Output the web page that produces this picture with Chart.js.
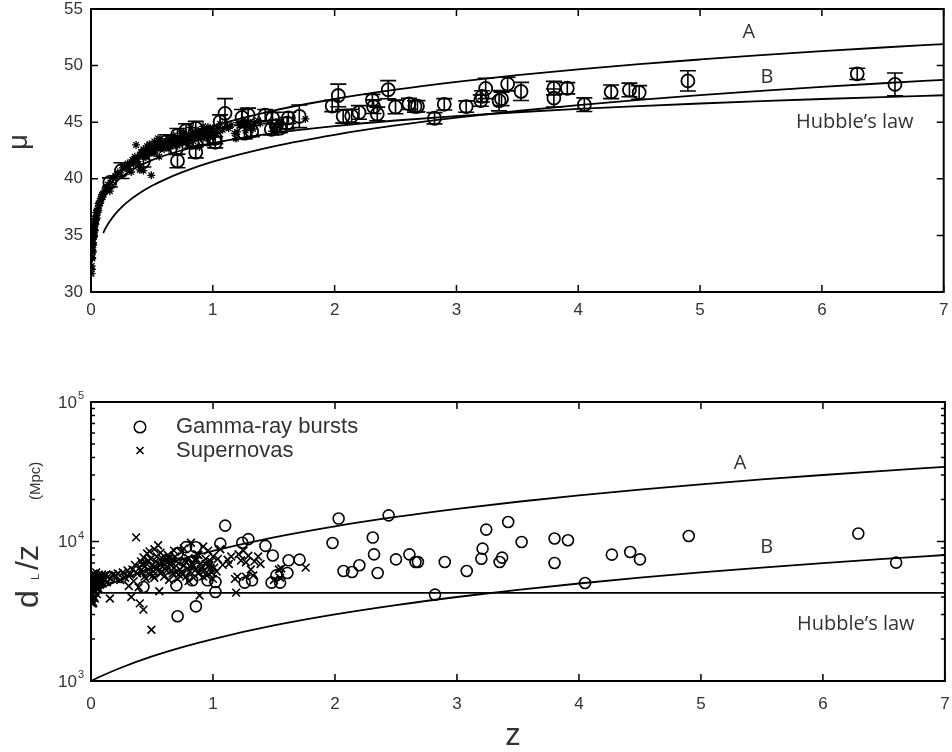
<!DOCTYPE html>
<html>
<head>
<meta charset="utf-8">
<script src="https://cdn.jsdelivr.net/npm/chart.js@4.4.0/dist/chart.umd.min.js"></script>
<style>
  html, body { margin: 0; padding: 0; background: #fff; }
  canvas { position: absolute; left: 0; }
  #muChart { top: 0; }
  #dlChart { top: 380px; }
</style>
</head>
<body>
<canvas id="muChart" width="952" height="330"></canvas>
<canvas id="dlChart" width="952" height="372"></canvas>
<script>
// Gamma-ray bursts: redshift, distance modulus, error, d_L/z (Mpc)
const grbZ = [0.155,0.25,0.43,0.62,0.70,0.71,0.71,0.78,0.83,0.86,0.86,0.955,1.02,1.02,1.06,1.10,1.24,1.26,1.29,1.32,
  1.43,1.49,1.48,1.52,1.55,1.61,1.62,1.71,1.98,2.03,2.07,2.14,2.20,2.31,2.32,2.35,2.44,2.50,2.61,2.66,
  2.68,2.82,2.90,3.08,3.20,3.21,3.24,3.35,3.37,3.42,3.53,3.80,3.80,3.91,4.05,4.27,4.42,4.50,4.90,6.29,6.60];
const grbMu = [39.68,40.72,41.54,43.29,42.66,41.58,43.84,44.26,43.21,42.35,44.47,43.51,43.23,43.59,45.05,45.78,45.42,44.03,45.64,44.21,
  45.62,45.37,44.37,44.70,44.47,44.91,45.38,45.52,46.43,47.36,45.52,45.55,45.86,46.96,46.37,45.73,47.87,46.35,46.62,46.39,
  46.41,45.35,46.58,46.38,46.91,47.28,47.98,46.90,47.06,48.37,47.72,48.01,47.13,48.00,46.55,47.68,47.85,47.63,48.65,49.27,48.34];
const grbErr = [0.4,0.7,0.5,0.6,0.5,0.6,0.6,0.6,0.5,0.5,0.6,0.5,0.5,0.5,0.6,1.3,0.7,0.5,0.6,0.5,
  0.5,0.5,0.5,0.5,0.4,0.5,0.5,1.0,0.5,1.0,0.6,0.6,0.6,0.5,0.6,0.6,0.8,0.6,0.5,0.5,
  0.5,0.5,0.5,0.5,0.5,0.5,0.9,0.9,0.6,0.6,0.8,0.6,0.8,0.5,0.6,0.6,0.6,0.6,0.9,0.5,1.0];
const grbDz = [5560,5560,4720,7330,4850,2910,8260,9120,5270,3430,9100,5270,4350,5130,9660,13000,9800,5070,10400,5270,
  9300,7940,5070,5720,5070,5950,7330,7410,9750,14600,6150,6040,6760,10670,8090,5950,15400,7450,8090,7130,
  7130,4160,7130,6150,7530,8890,12170,7130,7660,13800,9910,10500,7020,10200,5040,8050,8410,7450,10950,11400,7060];

// Supernovas: redshift, distance modulus, d_L/z (Mpc)
const snZ = [
  0.005,0.006,0.007,0.008,0.009,0.01,0.01,0.011,0.012,0.013,0.014,0.015,0.016,0.017,0.018,0.019,0.02,0.021,0.022,0.023,
  0.024,0.025,0.026,0.027,0.028,0.03,0.031,0.033,0.035,0.036,0.038,0.04,0.042,0.045,0.048,0.05,0.053,0.056,0.06,0.063,
  0.066,0.07,0.075,0.08,0.085,0.09,0.095,0.1,
  0.11,0.12,0.13,0.14,0.155,0.16,0.18,0.2,0.22,0.24,0.26,0.28,0.3,0.31,0.33,0.32,
  0.34,0.35,0.36,0.37,0.38,0.39,0.40,0.40,0.41,0.42,0.43,0.43,0.44,0.45,0.45,0.46,0.47,0.48,0.49,0.495,
  0.50,0.51,0.52,0.52,0.53,0.54,0.55,0.56,0.56,0.57,0.58,0.59,0.60,0.61,0.62,0.63,0.64,0.65,0.66,0.67,
  0.68,0.69,0.70,0.71,0.72,0.73,0.74,0.75,0.76,0.77,0.78,0.79,0.80,0.81,0.82,0.83,0.84,0.85,0.86,0.87,
  0.88,0.89,0.90,0.91,0.92,0.93,0.94,0.95,0.96,0.97,0.98,0.99,1.00,1.01,
  0.42,0.47,0.51,0.54,0.58,0.62,0.66,0.70,0.74,0.78,0.82,0.86,0.90,0.94,0.98,
  0.44,0.48,0.57,0.64,0.72,0.76,0.84,0.88,0.92,0.96,1.00,0.80,0.68,0.60,0.52,
  1.03,1.04,1.06,1.08,1.12,1.13,1.15,1.18,1.19,1.20,1.21,1.23,1.25,1.27,1.27,1.29,1.31,1.33,1.34,1.37,
  1.39,1.50,1.54,1.55,1.56,1.76];
const snMu = [
  31.62,32.30,32.01,33.01,33.04,32.96,33.74,33.62,33.52,34.19,33.57,34.33,34.76,34.37,34.82,34.17,34.87,35.46,34.88,35.30,
  35.56,35.00,35.49,35.86,35.51,35.97,35.42,36.04,36.46,36.00,36.44,36.37,37.01,36.76,36.53,37.20,37.03,37.36,37.20,37.82,
  37.64,37.89,37.83,38.26,38.23,38.59,38.38,38.70,
  38.83,39.18,39.11,39.47,38.91,39.68,40.10,40.25,40.56,40.52,40.97,40.94,41.35,40.87,40.60,41.35,
  41.66,41.30,41.94,42.99,41.75,41.32,40.79,42.07,42.35,42.01,40.73,42.60,42.32,41.93,42.50,42.88,42.36,42.23,42.83,40.31,
  42.63,42.47,43.30,42.28,42.91,42.69,43.57,41.96,42.93,42.63,43.22,42.95,42.63,43.25,42.92,43.52,42.65,43.23,43.36,42.98,
  43.22,43.65,43.12,42.92,43.52,43.32,43.97,43.20,43.53,43.75,43.20,43.52,43.92,43.47,44.53,43.79,43.32,44.00,43.67,44.24,
  43.57,42.81,44.00,43.90,44.64,43.80,44.25,43.67,44.58,44.09,44.25,43.87,44.46,44.08,
  42.31,42.68,42.32,43.12,42.75,43.34,43.06,43.52,43.24,43.72,43.63,43.99,43.77,44.06,43.99,
  41.96,43.06,43.37,43.43,43.11,44.15,43.75,44.24,43.56,44.01,43.66,43.10,43.83,43.05,42.68,
  43.99,44.47,44.85,44.33,44.60,44.46,44.76,44.02,43.55,44.14,44.95,44.77,45.15,44.26,44.78,45.04,44.59,44.40,44.93,45.14,
  44.91,44.50,44.94,44.65,45.00,45.29];
const snDz = [
  4200,4800,3600,5000,4500,3900,5600,4800,4200,5300,3700,4900,5600,4400,5100,3600,4700,5900,4300,5000,
  5400,4000,4800,5500,4500,5200,3900,4900,5600,4400,5100,4700,6000,5000,4200,5500,4800,5300,4600,5800,
  5100,5400,4900,5600,5200,5800,5000,5500,
  5300,5700,5100,5600,3900,5400,5800,5600,5900,5300,6000,5500,6200,4800,4000,5800,
  6300,5200,6800,10700,5900,4700,3600,6500,7200,6000,3250,7700,6600,5400,7000,8200,6300,5800,7500,2330,
  6700,6100,8800,5500,7200,6400,9400,4400,6900,5900,7600,6600,5600,7300,6200,8000,5300,6800,7100,5900,
  6500,7800,6000,5400,7000,6300,8400,5800,6700,7300,5600,6400,7600,6100,9800,6900,5500,7400,6300,8100,
  5900,4100,7000,6600,9200,6200,7500,5700,8600,6800,7200,6000,7800,6500,
  6900,7300,5700,7800,6100,7500,6200,7200,6000,7100,6500,7300,6300,6900,6400,
  5600,8500,8300,7600,5800,8900,6700,8000,5600,6600,5400,5200,8600,6800,6600,
  6100,7500,8800,6800,7400,6900,7800,5400,4300,5600,8100,7300,8600,5600,7100,7900,6300,5700,7200,7800,
  6900,5300,6300,5500,6400,6500];

// model curves, distance modulus
const curveZ = [0.01,0.02,0.05,0.1,0.2,0.3,0.5,0.75,1,1.5,2,2.5,3,3.5,4,4.5,5,5.5,6,6.5,7];
const muA = [33.18,34.71,36.76,38.37,40.06,41.11,42.53,43.75,44.66,46.03,47.05,47.87,48.56,49.15,49.66,50.13,50.54,50.93,51.28,51.60,51.90];
const muHubble = [33.16,34.66,36.65,38.16,39.66,40.54,41.65,42.53,43.16,44.04,44.66,45.15,45.54,45.88,46.17,46.42,46.65,46.86,47.05,47.22,47.38];
const curveZB = [0.1,0.12,0.15,0.2,0.25,0.3,0.4,0.5,0.6,0.75,1,1.5,2,2.5,3,3.5,4,4.5,5,5.5,6,6.5,7];
const muB = [35.21,35.64,36.18,36.90,37.47,37.96,38.74,39.38,39.91,40.59,41.51,42.87,43.89,44.71,45.40,45.99,46.51,46.97,47.39,47.77,48.12,48.44,48.74];

// model curves, d_L/z
const dzZ = [0,0.1,0.25,0.5,0.75,1,1.5,2,2.5,3,3.5,4,4.5,5,5.5,6,6.5,7];
const dzA = [4283,4711,5354,6425,7496,8566,10708,12849,14991,17132,19274,21415,23557,25698,27840,29981,32123,34264];
const dzB = [1000,1100,1250,1500,1750,2000,2500,3000,3500,4000,4500,5000,5500,6000,6500,7000,7500,8000];
const dzHubble = [4283,4283,4283,4283,4283,4283,4283,4283,4283,4283,4283,4283,4283,4283,4283,4283,4283,4283];

const xTicks = [0,1,2,3,4,5,6,7];
const muTicks = [30,35,40,45,50,55];
const dzTicks = [1000,10000,100000];

const SANS = '"Liberation Sans", Arial, sans-serif';
const LABEL = '"Open Sans", sans-serif';
const GREY = '#333';

const pts = (xs, ys) => xs.map((x, i) => ({ x: x, y: ys[i] }));

function curve(xs, ys) {
  return {
    type: 'line', data: pts(xs, ys), showLine: true, borderColor: '#000', borderWidth: 1.8,
    pointRadius: 0, fill: false, cubicInterpolationMode: 'monotone', order: 5
  };
}

// keep the plot box where the layout padding puts it
function noPad(s) {
  s.paddingLeft = 0; s.paddingRight = 0; s.paddingTop = 0; s.paddingBottom = 0;
}

// box + inward ticks
const boxPlugin = {
  id: 'box',
  afterDraw(chart) {
    const { ctx, chartArea: a, scales: { x, y } } = chart;
    ctx.save();
    ctx.strokeStyle = '#000';
    ctx.lineWidth = 1.5;
    ctx.beginPath();
    x.ticks.forEach(t => {
      const px = x.getPixelForValue(t.value);
      ctx.moveTo(px, a.bottom); ctx.lineTo(px, a.bottom - 7);
      ctx.moveTo(px, a.top); ctx.lineTo(px, a.top + 7);
    });
    if (y.type === 'logarithmic') {
      for (let e = 3; e <= 5; e++) {
        for (let m = 1; m < 10; m++) {
          const v = m * Math.pow(10, e);
          if (v > y.max) break;
          const py = y.getPixelForValue(v);
          const len = m === 1 ? 8 : 4;
          ctx.moveTo(a.left, py); ctx.lineTo(a.left + len, py);
          ctx.moveTo(a.right, py); ctx.lineTo(a.right - len, py);
        }
      }
    } else {
      y.ticks.forEach(t => {
        const py = y.getPixelForValue(t.value);
        ctx.moveTo(a.left, py); ctx.lineTo(a.left + 7, py);
        ctx.moveTo(a.right, py); ctx.lineTo(a.right - 7, py);
      });
    }
    ctx.stroke();
    ctx.lineWidth = 2;
    ctx.strokeRect(a.left, a.top, a.right - a.left, a.bottom - a.top);
    ctx.restore();
  }
};

const errorBarPlugin = {
  id: 'errorBars',
  afterDatasetsDraw(chart) {
    const { ctx, scales: { y } } = chart;
    chart.data.datasets.forEach((ds, i) => {
      if (!ds.errors) return;
      const meta = chart.getDatasetMeta(i);
      ctx.save();
      ctx.strokeStyle = '#000';
      ctx.lineWidth = 1.6;
      ctx.beginPath();
      meta.data.forEach((pt, j) => {
        const v = ds.data[j].y, e = ds.errors[j];
        const y1 = y.getPixelForValue(v - e), y2 = y.getPixelForValue(v + e);
        ctx.moveTo(pt.x, y1); ctx.lineTo(pt.x, y2);
        ctx.moveTo(pt.x - 8, y1); ctx.lineTo(pt.x + 8, y1);
        ctx.moveTo(pt.x - 8, y2); ctx.lineTo(pt.x + 8, y2);
      });
      ctx.stroke();
      ctx.restore();
    });
  }
};

// curve labels in data units
const notesPlugin = {
  id: 'notes',
  afterDraw(chart, args, opts) {
    const { ctx, scales: { x, y } } = chart;
    ctx.save();
    ctx.fillStyle = GREY;
    ctx.font = '20px ' + LABEL;
    ctx.textAlign = 'center';
    ctx.textBaseline = 'middle';
    (opts.items || []).forEach(n => {
      ctx.fillText(n.text, x.getPixelForValue(n.x), y.getPixelForValue(n.y));
    });
    ctx.restore();
  }
};

const tickFont = { family: SANS, size: 17 };
const noGrid = { display: false, drawTicks: false };

const topChart = new Chart(document.getElementById('muChart'), {
  type: 'scatter',
  data: {
    datasets: [
      { label: 'Gamma-ray bursts', data: pts(grbZ, grbMu), errors: grbErr, pointStyle: 'circle',
        pointRadius: 6.5, borderColor: '#000', borderWidth: 1.8, backgroundColor: 'rgba(0,0,0,0)', order: 1 },
      { label: 'Supernovas', data: pts(snZ, snMu), pointStyle: 'star', pointRadius: 4,
        borderColor: '#000', borderWidth: 1.3, order: 2 },
      Object.assign(curve(curveZ, muA), { label: 'A' }),
      Object.assign(curve(curveZB, muB), { label: 'B' }),
      Object.assign(curve(curveZ, muHubble), { label: "Hubble's law" })
    ]
  },
  options: {
    responsive: false,
    animation: false,
    events: [],
    layout: { padding: { top: 9, right: 4, left: 0, bottom: 0 } },
    plugins: {
      legend: { display: false },
      tooltip: { enabled: false },
      notes: { items: [
        { text: 'A', x: 5.4, y: 52.9 },
        { text: 'B', x: 5.55, y: 49.0 },
        { text: 'Hubble\u2019s law', x: 6.27, y: 44.95 }
      ] }
    },
    scales: {
      x: {
        type: 'linear', min: 0, max: 7,
        afterBuildTicks: s => { s.ticks = xTicks.map(v => ({ value: v })); },
        ticks: { padding: 8, color: GREY, font: tickFont },
        grid: noGrid, border: { display: false },
        afterFit: s => { s.height = 38; noPad(s); }
      },
      y: {
        min: 30, max: 55,
        afterBuildTicks: s => { s.ticks = muTicks.map(v => ({ value: v })); },
        ticks: { padding: 8, color: GREY, font: tickFont },
        grid: noGrid, border: { display: false },
        afterFit: s => { s.width = 91; noPad(s); }
      }
    }
  },
  plugins: [errorBarPlugin, boxPlugin, notesPlugin, {
    id: 'muTitle',
    afterDraw(chart) {
      const ctx = chart.ctx;
      ctx.save();
      ctx.fillStyle = GREY;
      ctx.font = '27px ' + SANS;
      ctx.translate(27, 142);
      ctx.rotate(-Math.PI / 2);
      ctx.textAlign = 'center';
      ctx.textBaseline = 'alphabetic';
      ctx.fillText('\u03bc', 0, 0);
      ctx.restore();
    }
  }]
});

const bottomChart = new Chart(document.getElementById('dlChart'), {
  type: 'scatter',
  data: {
    datasets: [
      { label: 'Gamma-ray bursts', data: pts(grbZ, grbDz), pointStyle: 'circle', pointRadius: 5.5,
        borderColor: '#000', borderWidth: 1.6, backgroundColor: 'rgba(0,0,0,0)', order: 1 },
      { label: 'Supernovas', data: pts(snZ, snDz), pointStyle: 'crossRot', pointRadius: 5.5,
        borderColor: '#000', borderWidth: 1.6, order: 2 },
      Object.assign(curve(dzZ, dzA), { label: 'A' }),
      Object.assign(curve(dzZ, dzB), { label: 'B' }),
      Object.assign(curve(dzZ, dzHubble), { label: "Hubble's law" })
    ]
  },
  options: {
    responsive: false,
    animation: false,
    events: [],
    layout: { padding: { top: 22, right: 4, left: 0, bottom: 0 } },
    plugins: {
      legend: { display: false },
      tooltip: { enabled: false },
      notes: { items: [
        { text: 'A', x: 5.32, y: 36100 },
        { text: 'B', x: 5.54, y: 9140 },
        { text: 'Hubble\u2019s law', x: 6.27, y: 2535 }
      ] }
    },
    scales: {
      x: {
        type: 'linear', min: 0, max: 7,
        afterBuildTicks: s => { s.ticks = xTicks.map(v => ({ value: v })); },
        ticks: { padding: 13, color: GREY, font: tickFont },
        grid: noGrid, border: { display: false },
        afterFit: s => { s.height = 71; noPad(s); }
      },
      y: {
        type: 'logarithmic', min: 1000, max: 100000,
        afterBuildTicks: s => { s.ticks = dzTicks.map(v => ({ value: v })); },
        ticks: { display: false },
        grid: noGrid, border: { display: false },
        afterFit: s => { s.width = 91; noPad(s); }
      }
    }
  },
  plugins: [boxPlugin, notesPlugin, {
    id: 'dzDecor',
    afterDraw(chart) {
      const { ctx, chartArea: a, scales: { y } } = chart;
      ctx.save();
      ctx.fillStyle = GREY;
      // tick labels 10^n
      dzTicks.forEach(v => {
        const py = y.getPixelForValue(v);
        ctx.font = '17px ' + SANS;
        ctx.textAlign = 'right';
        ctx.textBaseline = 'middle';
        ctx.fillText('10', a.left - 14, py + 1);
        ctx.font = '11px ' + SANS;
        ctx.textAlign = 'left';
        ctx.fillText(String(Math.round(Math.log10(v))), a.left - 13, py - 6);
      });
      // y title  d_L/z (Mpc), rotated
      ctx.save();
      ctx.translate(38, 0);
      ctx.rotate(-Math.PI / 2);
      ctx.textAlign = 'left';
      ctx.textBaseline = 'alphabetic';
      ctx.font = '32px ' + SANS;
      ctx.fillText('d', -228, 0);
      ctx.font = '11px ' + SANS;
      ctx.fillText('L', -200, 1);
      ctx.font = '32px ' + SANS;
      ctx.fillText('/z', -190, 0);
      ctx.font = '15px ' + SANS;
      ctx.fillText('(Mpc)', -120, 2);
      ctx.restore();
      // x title
      ctx.font = '31px ' + SANS;
      ctx.textAlign = 'center';
      ctx.textBaseline = 'alphabetic';
      ctx.fillText('z', 513, 365);
      // legend
      const lx = a.left + 49, ly1 = a.top + 25, ly2 = a.top + 48.5;
      ctx.strokeStyle = '#000';
      ctx.lineWidth = 1.5;
      ctx.beginPath();
      ctx.arc(lx, ly1, 5.8, 0, Math.PI * 2);
      ctx.stroke();
      ctx.beginPath();
      ctx.moveTo(lx - 3.5, ly2 - 3.5); ctx.lineTo(lx + 3.5, ly2 + 3.5);
      ctx.moveTo(lx + 3.5, ly2 - 3.5); ctx.lineTo(lx - 3.5, ly2 + 3.5);
      ctx.stroke();
      ctx.font = '22px ' + SANS;
      ctx.textAlign = 'left';
      ctx.textBaseline = 'middle';
      ctx.fillText('Gamma-ray bursts', a.left + 85, ly1);
      ctx.fillText('Supernovas', a.left + 85, ly2);
      ctx.restore();
    }
  }]
});
</script>
</body>
</html>
